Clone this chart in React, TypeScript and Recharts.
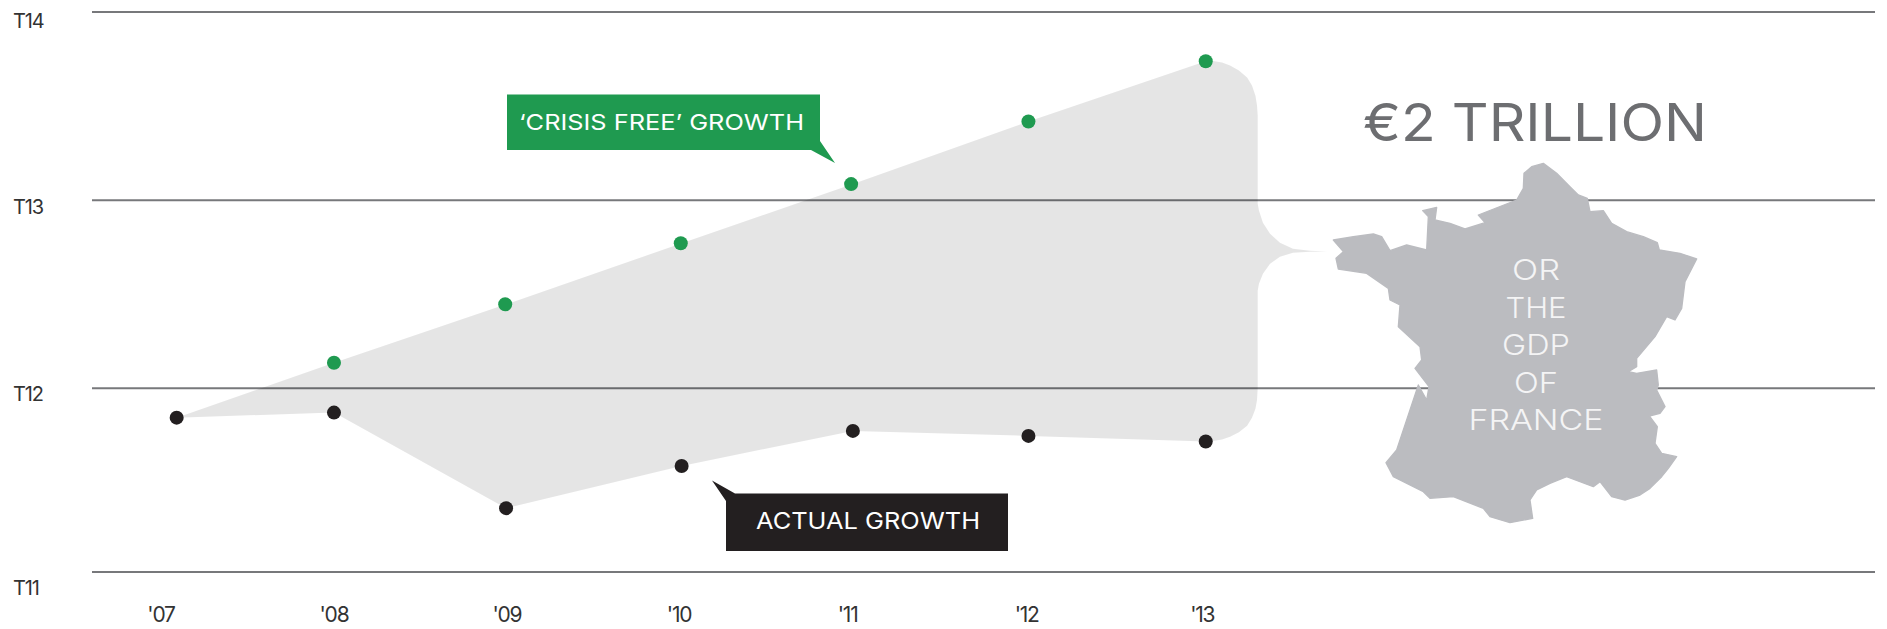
import React from "react";
import { ComposedChart, Area, Line, XAxis, YAxis, CartesianGrid, Customized } from "recharts";

// ---- tick positions and labels ----
const yTickValues = [11, 11.984, 12.992, 14];
const yTickLabels = ["T11", "T12", "T13", "T14"];
const yTickLabelDy = [23, 13, 14, 16];
const xTickValues = [2007, 2007.995, 2008.99, 2009.98, 2010.95, 2011.98, 2012.99];
const xTickLabels = ["'07", "'08", "'09", "'10", "'11", "'12", "'13"];

// ---- crisis-free series ----
const freeYears = [2007.995, 2008.98, 2009.99, 2010.97, 2011.99, 2013.01];
const freeValues = [12.121, 12.434, 12.761, 13.078, 13.413, 13.736];

// ---- actual series ----
const actualYears = [2007.09, 2007.995, 2008.985, 2009.995, 2010.98, 2011.99, 2013.01];
const actualValues = [11.827, 11.854, 11.342, 11.568, 11.756, 11.729, 11.699];

// ---- gap band: follows both series, then narrows into the brace pointing at the map ----
const gapYears = [2007.09, 2007.995, 2008.985, 2009.995, 2010.98, 2011.99, 2013.01, 2013.052, 2013.104, 2013.15, 2013.201, 2013.248, 2013.276, 2013.296, 2013.305, 2013.309, 2013.309, 2013.316, 2013.339, 2013.38, 2013.437, 2013.512, 2013.61, 2013.708];
const gapHigh = [11.827, 12.121, 12.434, 12.761, 13.078, 13.413, 13.736, 13.737, 13.729, 13.713, 13.686, 13.649, 13.606, 13.552, 13.499, 13.445, 12.973, 12.936, 12.871, 12.812, 12.764, 12.732, 12.721, 12.717];
const gapLow = [11.827, 11.854, 11.342, 11.568, 11.756, 11.729, 11.699, 11.702, 11.71, 11.724, 11.748, 11.783, 11.826, 11.874, 11.922, 11.987, 12.507, 12.544, 12.598, 12.651, 12.689, 12.71, 12.716, 12.717];

const freeRows = freeYears.map((x, i) => ({ x, y: freeValues[i] }));
const actualRows = actualYears.map((x, i) => ({ x, y: actualValues[i] }));
const gapRows = gapYears.map((x, i) => ({ x, band: [gapLow[i], gapHigh[i]] }));

const FONT = "Inter, 'Open Sans', sans-serif";
const GREEN = "#1f9a50";
const BLACK = "#231f20";

// map outline of France (decorative illustration), in 1/3 px units
const FRANCE = "880,310 920,340 960,380 985,405 1012,415 1020,455 1060,452 1085,490 1130,515 1180,530 1222,548 1228,570 1290,580 1340,597 1305,665 1295,745 1275,780 1250,770 1215,830 1160,895 1160,920 1135,935 1160,940 1220,930 1225,975 1220,990 1245,1040 1230,1060 1198,1068 1222,1100 1215,1150 1235,1180 1280,1190 1255,1225 1235,1250 1200,1285 1170,1305 1125,1320 1085,1310 1050,1265 1030,1280 950,1250 900,1270 860,1290 840,1320 848,1375 780,1388 720,1370 700,1345 610,1310 540,1315 520,1295 430,1250 408,1208 440,1170 480,1050 505,975 530,1020 537,980 495,925 515,900 510,860 445,800 450,735 420,720 415,685 350,640 265,627 258,595 280,575 250,540 310,530 370,522 395,530 420,572 470,555 530,570 535,470 518,452 560,442 555,480 600,490 645,507 705,488 685,465 800,420 820,385 822,340 845,320";
const mapLines = ["OR", "THE", "GDP", "OF", "FRANCE"];
const mapLineWidths = [48, 61, 68, 44, 135];

const YTick = (props: any) => {
  const i = yTickValues.indexOf(props.payload.value);
  return (
    <text x={13} y={props.y + yTickLabelDy[i]} fontFamily={FONT} fontSize={20} letterSpacing={-1.2} fill="#333">
      {yTickLabels[i]}
    </text>
  );
};

const XTick = (props: any) => {
  const i = xTickValues.indexOf(props.payload.value);
  return (
    <text x={props.x} y={622} textAnchor="middle" fontFamily={FONT} fontSize={21} letterSpacing={-1.2} fill="#333">
      {xTickLabels[i]}
    </text>
  );
};

const Annotations = () => (
  <g fontFamily={FONT}>
    <polygon
      transform="translate(1250 60) scale(0.33333)"
      points={FRANCE}
      fill="#bbbcc0"
      stroke="#bbbcc0"
      strokeWidth={4}
      strokeLinejoin="round"
    />
    {mapLines.map((t, i) => (
      <text
        key={t}
        x={1536 - mapLineWidths[i] / 2}
        y={280 + i * 37.5}
        fontSize={29}
        fontWeight={300}
        fill="#f4f4f5"
        textLength={mapLineWidths[i]}
        lengthAdjust="spacingAndGlyphs"
      >
        {t}
      </text>
    ))}
    <text x={1363} y={141} fontSize={52} fontWeight={400} fill="#6d6e71" textLength={344} lengthAdjust="spacingAndGlyphs">
      €2 TRILLION
    </text>
    <polygon points="507,94.5 820,94.5 820,141 835,163 811,150 507,150" fill={GREEN} />
    <text x={519} y={129.5} fontSize={22} fill="#fff" textLength={285} lengthAdjust="spacingAndGlyphs">
      ‘CRISIS FREE’ GROWTH
    </text>
    <polygon points="726,501 712,480.5 735,493.5 1008,493.5 1008,551 726,551" fill={BLACK} />
    <text x={756} y={529} fontSize={23} fill="#fff" textLength={224} lengthAdjust="spacingAndGlyphs">
      ACTUAL GROWTH
    </text>
  </g>
);

export default function App() {
  return (
    <div style={{ position: "absolute", left: 0, top: 0, background: "#fff" }}>
      <ComposedChart width={1887} height={629} margin={{ top: 12, right: 12, bottom: 0, left: 0 }}>
        <XAxis
          dataKey="x"
          type="number"
          domain={[2006.603, 2016.86]}
          ticks={xTickValues}
          tick={<XTick />}
          tickLine={false}
          axisLine={false}
          height={57}
          interval={0}
          allowDuplicatedCategory
        />
        <YAxis
          type="number"
          domain={[11, 14]}
          ticks={yTickValues}
          tick={<YTick />}
          tickLine={false}
          axisLine={false}
          width={92}
          interval={0}
        />
        <Area data={gapRows} dataKey="band" type="linear" fill="#000" fillOpacity={0.1} stroke="none" isAnimationActive={false} dot={false} activeDot={false} />
        <CartesianGrid horizontal vertical={false} horizontalValues={yTickValues} stroke="#77787b" strokeWidth={2} />
        <Customized component={Annotations} />
        <Line data={freeRows} dataKey="y" stroke="none" dot={{ r: 7, fill: GREEN, stroke: "none" }} activeDot={false} isAnimationActive={false} />
        <Line data={actualRows} dataKey="y" stroke="none" dot={{ r: 7, fill: BLACK, stroke: "none" }} activeDot={false} isAnimationActive={false} />
      </ComposedChart>
    </div>
  );
}
